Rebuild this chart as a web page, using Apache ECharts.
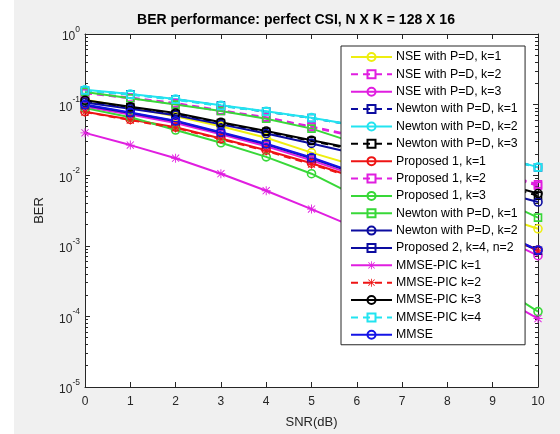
<!DOCTYPE html>
<html>
<head>
<meta charset="utf-8">
<script src="https://cdn.jsdelivr.net/npm/echarts@6/dist/echarts.min.js"></script>
<style>html,body{margin:0;padding:0;background:#fff}#c{width:560px;height:434px}</style>
</head>
<body>
<div id="c"></div>
<script>
// ---- data ----
const snr = [0, 1, 2, 3, 4, 5, 6, 7, 8, 9, 10];
const seriesNames = [
  'NSE with P=D, k=1', 'NSE with P=D, k=2', 'NSE with P=D, k=3',
  'Newton with P=D, k=1', 'Newton with P=D, k=2', 'Newton with P=D, k=3',
  'Proposed 1, k=1', 'Proposed 1, k=2', 'Proposed 1, k=3',
  'Newton with P=D, k=1 ', 'Newton with P=D, k=2 ', 'Proposed 2, k=4, n=2',
  'MMSE-PIC k=1', 'MMSE-PIC k=2', 'MMSE-PIC k=3', 'MMSE-PIC k=4', 'MMSE'
];
const nseK1 = [0.117, 0.0912, 0.0684, 0.0495, 0.0339, 0.0209, 0.0135, 0.00832, 0.00490, 0.00282, 0.00174];
const nseK2 = [0.148, 0.126, 0.105, 0.0832, 0.0661, 0.0490, 0.0355, 0.0251, 0.0174, 0.0115, 0.00741];
const nseK3 = [0.0933, 0.0724, 0.0550, 0.0380, 0.0257, 0.0162, 0.00977, 0.00550, 0.00295, 0.00148, 0.000724];
const newtonK1 = [0.158, 0.140, 0.119, 0.0966, 0.0794, 0.0646, 0.0501, 0.0372, 0.0269, 0.0191, 0.0129];
const newtonK2 = [0.162, 0.141, 0.120, 0.0977, 0.0804, 0.0653, 0.0507, 0.0376, 0.0272, 0.0193, 0.0130];
const newtonK3 = [0.112, 0.0912, 0.0741, 0.0550, 0.0412, 0.0305, 0.0226, 0.0166, 0.0116, 0.00785, 0.00513];
const prop1K1 = [0.0794, 0.0617, 0.0479, 0.0331, 0.0226, 0.0148, 0.00912, 0.00537, 0.00309, 0.00166, 0.000871];
const prop1K2 = [0.145, 0.123, 0.102, 0.0813, 0.0646, 0.0479, 0.0347, 0.0245, 0.0166, 0.0110, 0.00708];
const prop1K3 = [0.0891, 0.0661, 0.0437, 0.0288, 0.0182, 0.0105, 0.00501, 0.00214, 0.000813, 0.000302, 0.000117];
const newtonBK1 = [0.151, 0.123, 0.100, 0.0813, 0.0631, 0.0457, 0.0282, 0.0166, 0.00933, 0.00501, 0.00251];
const newtonBK2 = [0.107, 0.0871, 0.0708, 0.0525, 0.0389, 0.0282, 0.0200, 0.0138, 0.00933, 0.00617, 0.00417];
const prop2 = [0.0977, 0.0759, 0.0582, 0.0398, 0.0274, 0.0174, 0.0105, 0.00603, 0.00331, 0.00170, 0.000851];
const picK1 = [0.0398, 0.0267, 0.0174, 0.0105, 0.00603, 0.00331, 0.00178, 0.000912, 0.000447, 0.000214, 0.0000933];
const picK2 = [0.0785, 0.0603, 0.0468, 0.0324, 0.0220, 0.0143, 0.00891, 0.00525, 0.00302, 0.00162, 0.000851];
const picK3 = [0.115, 0.0933, 0.0759, 0.0562, 0.0422, 0.0313, 0.0234, 0.0174, 0.0123, 0.00832, 0.00550];
const picK4 = [0.158, 0.138, 0.117, 0.0955, 0.0794, 0.0646, 0.0501, 0.0363, 0.0263, 0.0186, 0.0129];
const mmse = [0.100, 0.0776, 0.0589, 0.0407, 0.0279, 0.0178, 0.0107, 0.00617, 0.00339, 0.00174, 0.000871];
const majorTicks = [1e-5, 1e-4, 1e-3, 1e-2, 1e-1, 1];
const minorTicks = [];
[1e-5, 1e-4, 1e-3, 1e-2, 1e-1].forEach(d => { for (let m = 2; m <= 9; m++) minorTicks.push(d * m); });

const allData = [nseK1, nseK2, nseK3, newtonK1, newtonK2, newtonK3, prop1K1, prop1K2, prop1K3,
  newtonBK1, newtonBK2, prop2, picK1, picK2, picK3, picK4, mmse];

// ---- styles ----
const STAR = 'path://M9 0H11V20H9Z M0 9H20V11H0Z M1.4 2.8L2.8 1.4L18.6 17.2L17.2 18.6Z M17.2 1.4L18.6 2.8L2.8 18.6L1.4 17.2Z';
const C = {
  yellow: '#eeee10', magenta: '#e01ee0', cyan: '#22e4f0', blue: '#1414e6', dblue: '#0c0ca0',
  green: '#38d838', red: '#ee1414', black: '#000000'
};
const styles = [
  [C.yellow, 'solid', 'circle'], [C.magenta, 'dashed', 'rect'], [C.magenta, 'solid', 'circle'],
  [C.dblue, 'dashed', 'rect'], [C.cyan, 'solid', 'circle'], [C.black, 'dashed', 'rect'],
  [C.red, 'solid', 'circle'], [C.magenta, 'dashed', 'rect'], [C.green, 'solid', 'circle'],
  [C.green, 'solid', 'rect'], [C.dblue, 'solid', 'circle'], [C.dblue, 'solid', 'rect'],
  [C.magenta, 'solid', 'star'], [C.red, 'dashed', 'star'], [C.black, 'solid', 'circle'],
  [C.cyan, 'dashed', 'rect'], [C.blue, 'solid', 'circle']
];

const series = allData.map((arr, i) => {
  const [col, ls, sym] = styles[i];
  const isStar = sym === 'star';
  return {
    name: seriesNames[i],
    type: 'line',
    data: snr.map((x, j) => [x, arr[j]]),
    symbol: isStar ? STAR : sym,
    symbolSize: isStar ? 9 : (sym === 'rect' ? 7 : 8),
    showSymbol: true,
    lineStyle: { color: col, width: 2, type: ls === 'dashed' ? [7, 5] : 'solid' },
    itemStyle: isStar ? { color: col, borderWidth: 0 } : { color: 'rgba(255,255,255,0)', borderColor: col, borderWidth: 1.6 },
    emphasis: { disabled: true },
    animation: false,
    z: 2
  };
});

const axisCol = '#262626';
const fontFam = '"Liberation Sans", Arial, Helvetica, sans-serif';

const option = {
  backgroundColor: '#f0f0f0',
  animation: false,
  textStyle: { fontFamily: fontFam },
  graphic: [{ type: 'rect', left: 0, top: 0, shape: { width: 14, height: 434 }, style: { fill: '#ffffff' }, z: -1 }],
  title: {
    text: 'BER performance: perfect CSI, N X K = 128 X 16',
    left: 296, top: 13, padding: 0, textAlign: 'center',
    textStyle: { fontSize: 14, fontWeight: 'bold', color: '#000', fontFamily: fontFam }
  },
  grid: { left: 85, right: 22, top: 34, bottom: 45, show: true, backgroundColor: '#ffffff', borderWidth: 0 },
  legend: {
    orient: 'vertical', left: 341, top: 46,
    padding: [5, 4, 4, 9],
    itemWidth: 41, itemHeight: 10, itemGap: 5.36,
    backgroundColor: '#ffffff', borderColor: axisCol, borderWidth: 1, borderRadius: 0,
    textStyle: { fontSize: 12.3, color: '#000', fontFamily: fontFam, lineHeight: 12, padding: [0, 0, 0, -1] },
    data: seriesNames,
    selectedMode: false
  },
  xAxis: [
    {
      type: 'value', min: 0, max: 10, interval: 1, position: 'bottom',
      name: 'SNR(dB)', nameLocation: 'middle', nameGap: 29,
      nameTextStyle: { fontSize: 13, color: axisCol, fontFamily: fontFam },
      axisLine: { show: true, lineStyle: { color: axisCol, width: 1 } },
      axisTick: { show: true, inside: true, length: 5, lineStyle: { color: axisCol } },
      axisLabel: { fontSize: 12, color: axisCol, margin: 9, fontFamily: fontFam },
      splitLine: { show: false }
    },
    {
      type: 'value', min: 0, max: 10, interval: 1, position: 'top',
      axisLine: { show: true, lineStyle: { color: axisCol, width: 1 } },
      axisTick: { show: true, inside: true, length: 5, lineStyle: { color: axisCol } },
      axisLabel: { show: false }, splitLine: { show: false }
    }
  ],
  yAxis: [
    {
      type: 'log', logBase: 10, min: 1e-5, max: 1, position: 'left',
      name: 'BER', nameLocation: 'middle', nameGap: 39, nameRotate: 90,
      nameTextStyle: { fontSize: 13, color: axisCol, fontFamily: fontFam },
      axisLine: { show: true, lineStyle: { color: axisCol, width: 1 } },
      axisTick: { show: true, inside: true, length: 5, customValues: majorTicks, lineStyle: { color: axisCol } },
      axisLabel: {
        customValues: majorTicks, margin: 5, color: axisCol, fontFamily: fontFam,
        formatter: v => '{b|10}{s|' + Math.round(Math.log10(v)) + '}',
        rich: {
          b: { fontSize: 12, color: axisCol, fontFamily: fontFam, lineHeight: 18, verticalAlign: 'bottom' },
          s: { fontSize: 8.5, color: axisCol, fontFamily: fontFam, lineHeight: 18, verticalAlign: 'top' }
        }
      },
      splitLine: { show: false }
    },
    {
      type: 'log', logBase: 10, min: 1e-5, max: 1, position: 'left',
      axisLine: { show: false },
      axisTick: { show: true, inside: true, length: 3, customValues: minorTicks, lineStyle: { color: axisCol } },
      axisLabel: { show: false }, splitLine: { show: false }
    },
    {
      type: 'log', logBase: 10, min: 1e-5, max: 1, position: 'right',
      axisLine: { show: true, lineStyle: { color: axisCol, width: 1 } },
      axisTick: { show: true, inside: true, length: 5, customValues: majorTicks, lineStyle: { color: axisCol } },
      axisLabel: { show: false }, splitLine: { show: false }
    },
    {
      type: 'log', logBase: 10, min: 1e-5, max: 1, position: 'right',
      axisLine: { show: false },
      axisTick: { show: true, inside: true, length: 3, customValues: minorTicks, lineStyle: { color: axisCol } },
      axisLabel: { show: false }, splitLine: { show: false }
    }
  ],
  series: series
};

const chart = echarts.init(document.getElementById('c'), null, { renderer: 'canvas' });
chart.setOption(option);
</script>
</body>
</html>
